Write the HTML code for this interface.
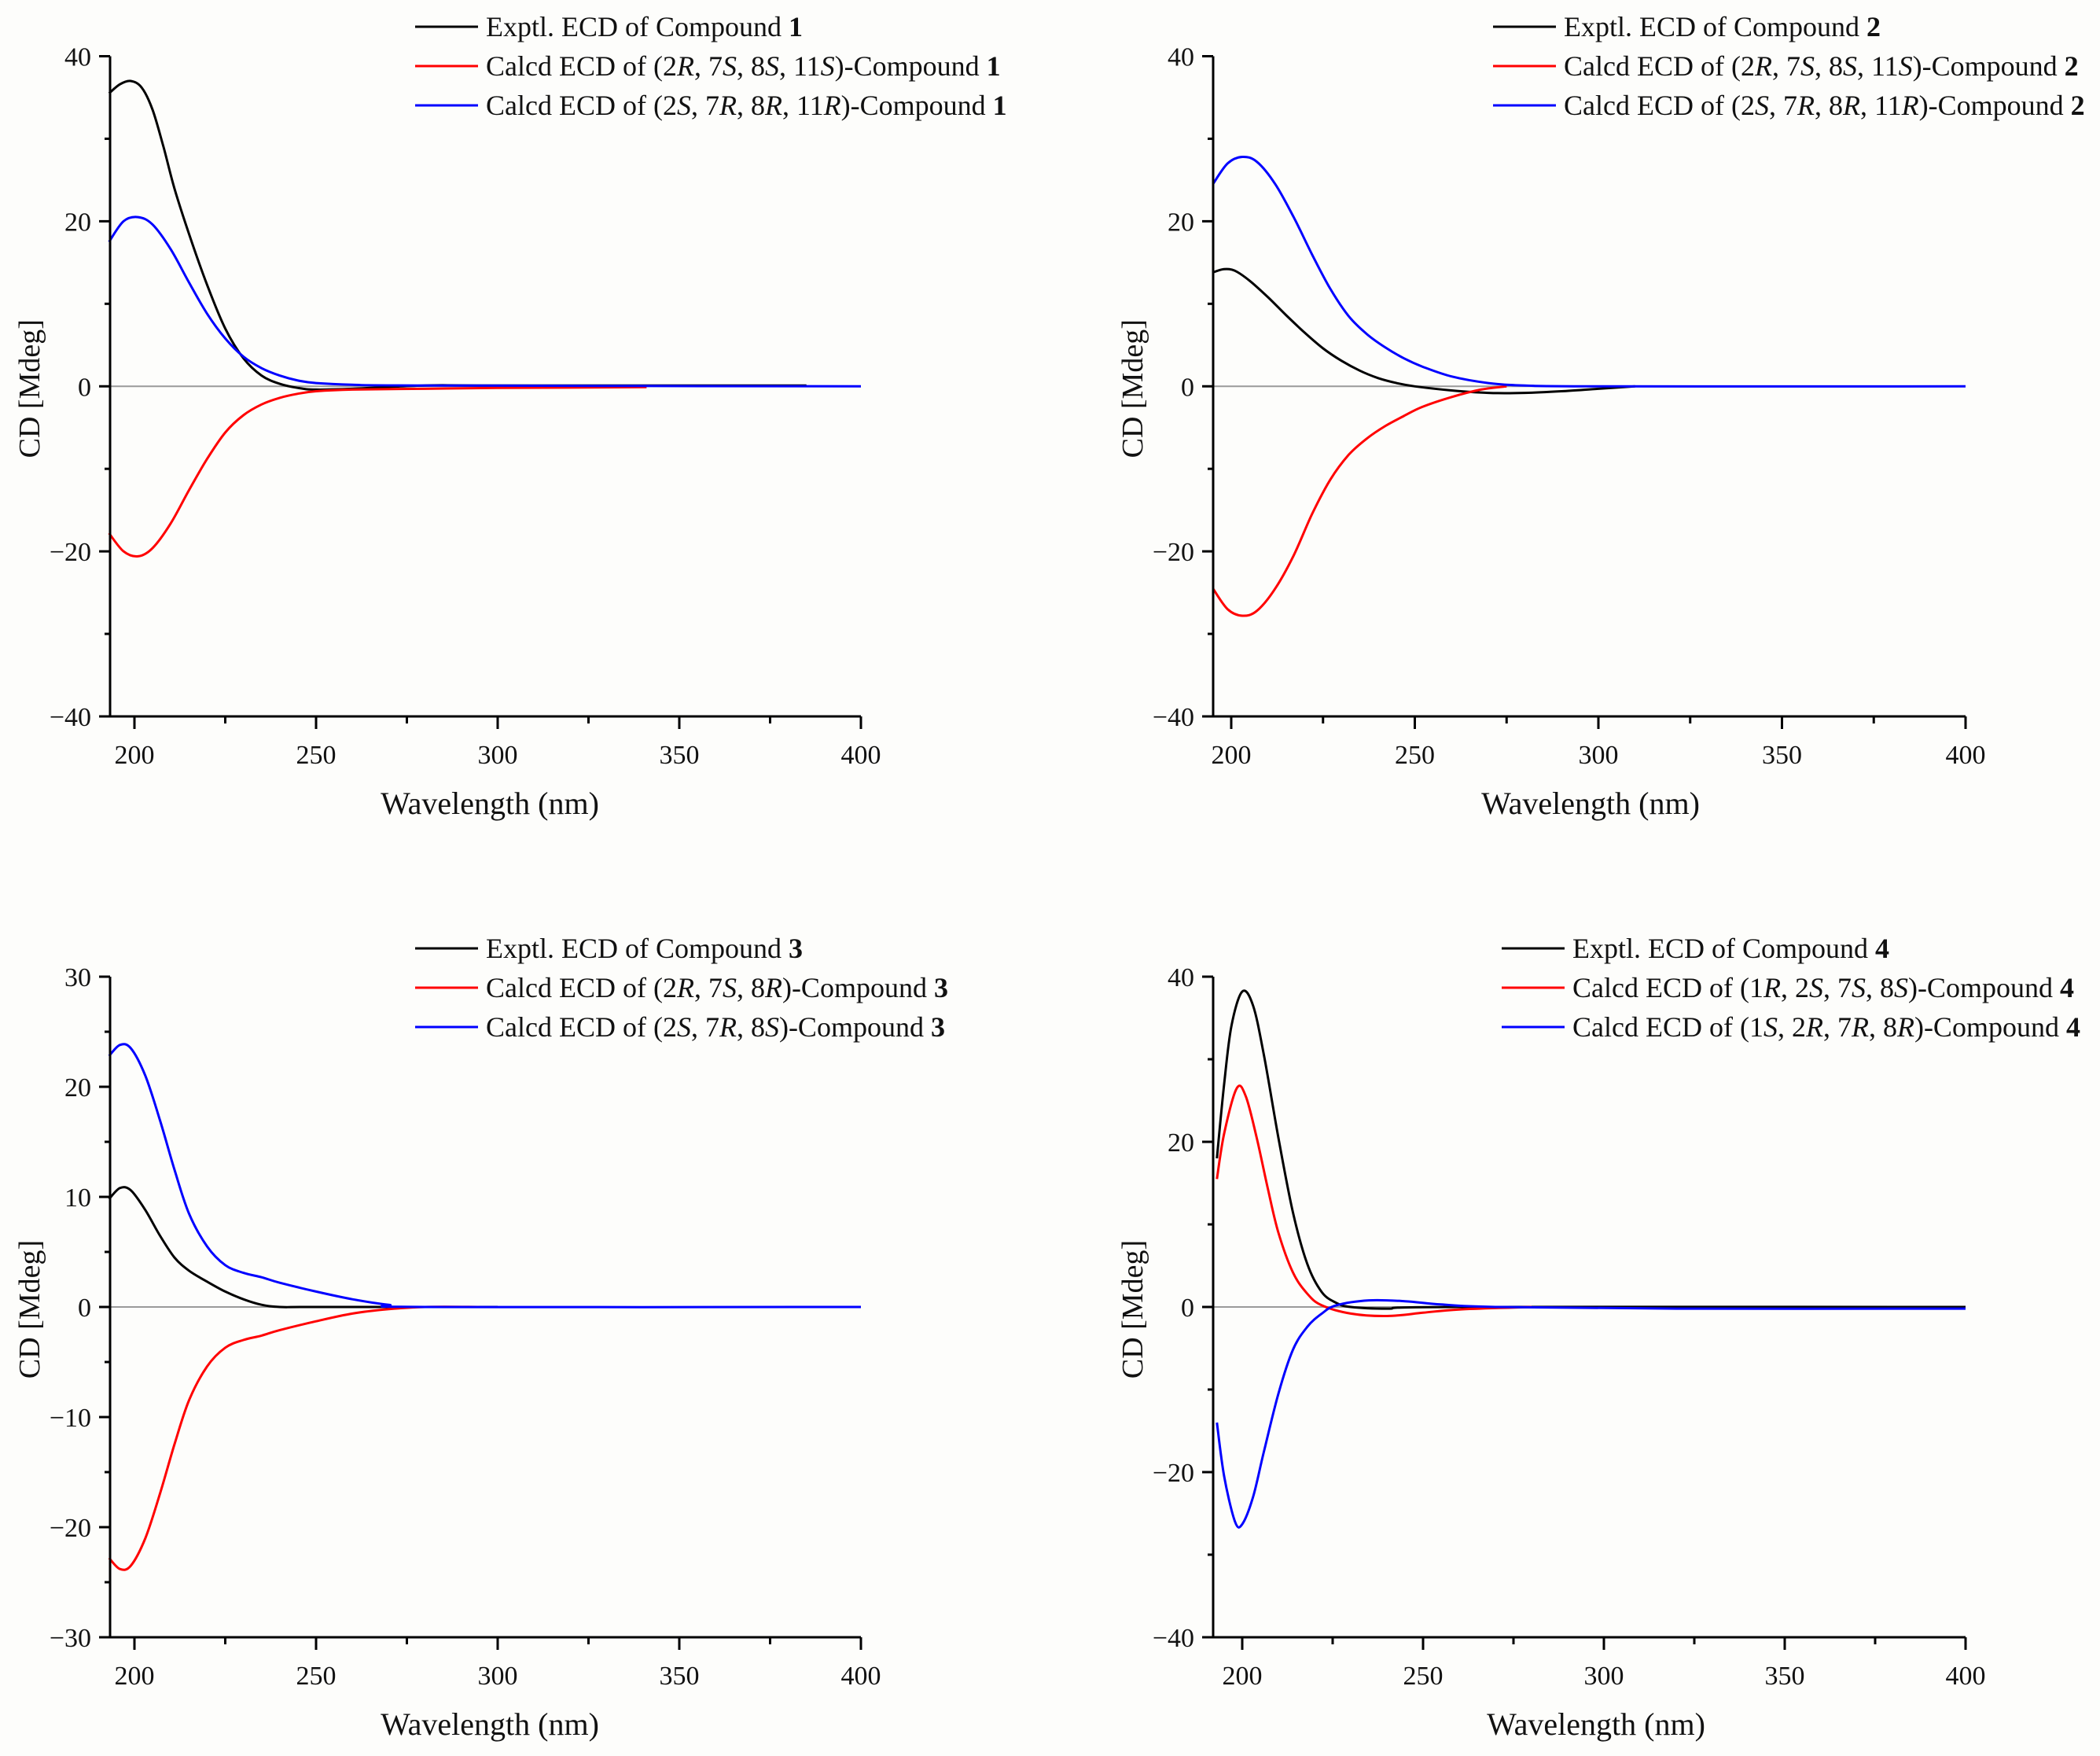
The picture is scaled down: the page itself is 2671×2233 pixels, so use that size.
<!DOCTYPE html>
<html><head><meta charset="utf-8"><style>
html,body{margin:0;padding:0;background:#fdfdfb;}
svg{display:block;font-family:"Liberation Serif","Times New Roman",serif;}
</style></head><body>
<svg id="fig" width="2671" height="2233" viewBox="0 0 2671 2233" xmlns="http://www.w3.org/2000/svg"></svg>
<script>
// ---- data (wavelength nm, CD mdeg) ----
const p1Black = [[193,35.5],[196,36.6],[199,37],[202,36.2],[205,33.5],[208,29],[211,24],[215,18.5],[220,12.3],[225,7.0],[230,3.4],[235,1.3],[240,0.3],[245,-0.2],[250,-0.4],[260,-0.3],[280,0.1],[300,0.1],[385,0.1]];
const p1Red = [[193,-17.8],[197,-20],[201,-20.6],[205,-19.6],[210,-16.6],[215,-12.6],[220,-8.8],[225,-5.6],[230,-3.5],[235,-2.2],[240,-1.4],[245,-0.9],[250,-0.6],[260,-0.4],[280,-0.3],[300,-0.2],[341,-0.1]];
const p1Blue = [[193,17.5],[197,20],[201,20.5],[205,19.6],[210,16.6],[215,12.6],[220,8.8],[225,5.8],[230,3.6],[235,2.2],[240,1.3],[245,0.7],[250,0.4],[260,0.2],[280,0.1],[400,0]];

const p2Black = [[195,13.8],[198,14.2],[201,14],[205,12.8],[210,10.8],[215,8.6],[220,6.5],[225,4.6],[230,3.1],[235,1.9],[240,1.0],[245,0.4],[250,0],[260,-0.5],[270,-0.8],[280,-0.8],[290,-0.6],[300,-0.3],[310,0]];
const p2Red = [[195,-24.5],[199,-27],[203,-27.8],[207,-27.2],[212,-24.5],[217,-20.5],[222,-15.5],[227,-11.3],[232,-8.3],[237,-6.3],[242,-4.8],[247,-3.6],[252,-2.5],[260,-1.3],[268,-0.4],[275,0]];
const p2Blue = [[195,24.5],[199,27],[203,27.8],[207,27.2],[212,24.5],[217,20.5],[222,16],[227,11.8],[232,8.5],[237,6.3],[242,4.7],[247,3.4],[252,2.4],[260,1.2],[270,0.4],[280,0.1],[300,0],[400,0]];

const p3Black = [[193,9.8],[196,10.8],[199,10.6],[203,8.8],[207,6.5],[211,4.5],[215,3.3],[220,2.3],[225,1.4],[230,0.7],[235,0.2],[240,0],[250,0],[300,0]];
const p3Red = [[193,-22.8],[196,-23.8],[199,-23.5],[203,-21],[207,-17],[211,-12.5],[215,-8.5],[220,-5.4],[225,-3.7],[230,-3.0],[235,-2.6],[240,-2.1],[250,-1.3],[260,-0.6],[270,-0.2],[280,0],[295,0]];
const p3Blue = [[193,22.8],[196,23.8],[199,23.5],[203,21],[207,17],[211,12.5],[215,8.5],[220,5.5],[225,3.8],[230,3.1],[235,2.7],[240,2.2],[250,1.4],[260,0.7],[270,0.2],[280,0],[400,0]];

const p4Black = [[193,18],[195,27],[197,34],[200,38.2],[203,36.5],[206,30.5],[210,20.5],[214,11.5],[218,5.2],[222,1.8],[226,0.5],[230,0],[240,-0.2],[260,0],[400,0]];
const p4Red = [[193,15.5],[195,21],[198.5,26.5],[201,25.5],[204,20.5],[207,14.5],[210,9],[214,4.2],[218,1.6],[222,0.2],[230,-0.8],[240,-1.1],[250,-0.7],[260,-0.3],[280,0]];
const p4Blue = [[193,-14],[195,-20.5],[198,-26],[200,-26.3],[203,-23],[206,-17.5],[210,-10.5],[214,-5.2],[218,-2.4],[222,-0.8],[226,0.2],[235,0.8],[245,0.7],[255,0.3],[270,0],[320,-0.2],[400,-0.2]];

const xTickLabels = ["200","250","300","350","400"];
const yTicks40 = [40,20,0,-20,-40];
const yTicks30 = [30,20,10,0,-10,-20,-30];

const NS="http://www.w3.org/2000/svg";
const svg=document.getElementById('fig');
function mk(tag,attrs,parent){const e=document.createElementNS(NS,tag);for(const k in attrs)e.setAttribute(k,attrs[k]);(parent||svg).appendChild(e);return e;}

function smoothPath(pts){
  let d="M"+pts[0][0].toFixed(1)+","+pts[0][1].toFixed(1);
  for(let i=0;i<pts.length-1;i++){
    const p0=pts[i-1]||pts[i],p1=pts[i],p2=pts[i+1],p3=pts[i+2]||p2;
    const c1x=p1[0]+(p2[0]-p0[0])/6,c1y=p1[1]+(p2[1]-p0[1])/6;
    const c2x=p2[0]-(p3[0]-p1[0])/6,c2y=p2[1]-(p3[1]-p1[1])/6;
    d+=" C"+c1x.toFixed(1)+","+c1y.toFixed(1)+" "+c2x.toFixed(1)+","+c2y.toFixed(1)+" "+p2[0].toFixed(1)+","+p2[1].toFixed(1);
  }
  return d;
}

function panel(cfg){
  const g=mk('g',{});
  
  
  const X=w=>cfg.x200+(w-200)*(cfg.x400-cfg.x200)/200;
  const Y=v=>cfg.y0+(v-cfg.ymin)*(cfg.ytop-cfg.y0)/(cfg.ymax-cfg.ymin);
  const left=cfg.left,right=X(400),bottom=Y(cfg.ymin),top=Y(cfg.ymax);
  const z=mk('line',{x1:left,x2:right,y1:Y(0),y2:Y(0),stroke:'#9a9a9a','stroke-width':2},g);
  
  
  const series=[[cfg.black,'#000','black'],[cfg.red,'#ff0000','red'],[cfg.blue,'#0000ff','blue']];
  series.forEach(s=>{
    const p=mk('path',{d:smoothPath(s[0].map(q=>[X(q[0]),Y(q[1])])),fill:'none',stroke:s[1],'stroke-width':3},g);
    
    
  });
  const ax=mk('path',{d:`M${left},${top} V${bottom} H${right}`,fill:'none',stroke:'#000','stroke-width':3},g);
  
  
  for(let w=200;w<=400;w+=25){
    const major=(w%50===0);
    mk('line',{x1:X(w),x2:X(w),y1:bottom,y2:bottom+(major?16:9),stroke:'#000','stroke-width':3},g);
  }
  xTickLabels.forEach(l=>{
    const t=mk('text',{x:X(+l),y:bottom+60,'font-size':34,'text-anchor':'middle',fill:'#111'},g);
    t.textContent=l;
    
    
  });
  const step=cfg.ticks[0]-cfg.ticks[1];
  for(let v=cfg.ymin;v<=cfg.ymax+0.01;v+=step/2){
    const major=cfg.ticks.includes(v);
    mk('line',{x1:left,x2:left-(major?14:7),y1:Y(v),y2:Y(v),stroke:'#000','stroke-width':3},g);
  }
  cfg.ticks.forEach(v=>{
    const t=mk('text',{x:left-24,y:Y(v)+12,'font-size':34,'text-anchor':'end',fill:'#111'},g);
    t.textContent=v<0?'\u2212'+(-v):String(v);
    
    
  });
  const xt=mk('text',{x:(cfg.x200+cfg.x400)/2-10,y:bottom+124,'font-size':40,'text-anchor':'middle',fill:'#111'},g);
  xt.textContent='Wavelength (nm)';
  
  
  const yc=(top+bottom)/2+3;
  const yt=mk('text',{x:cfg.left-90,y:yc,'font-size':38,'text-anchor':'middle',fill:'#111',transform:`rotate(-90 ${cfg.left-90} ${yc})`},g);
  yt.textContent='CD [Mdeg]';
  
  
  const cols=['#000','#ff0000','#0000ff'];
  cfg.legend.forEach((items,i)=>{
    const ly=cfg.ly+i*50;
    const le=mk('g',{},g);
    
    
    mk('line',{x1:cfg.lx,x2:cfg.lx+80,y1:ly,y2:ly,stroke:cols[i],'stroke-width':3},le);
    const t=mk('text',{x:cfg.lx+90,y:ly+12,'font-size':36,fill:'#111'},le);
    items.forEach(seg=>{
      const ts=mk('tspan',{},t);
      if(seg[1]==='i')ts.setAttribute('font-style','italic');
      if(seg[1]==='b')ts.setAttribute('font-weight','bold');
      ts.textContent=seg[0];
    });
  });
}

function calcd(a,n){
  const out=[['Calcd ECD of (','n']];
  a.forEach((p,i)=>{out.push([p[0],'n']);out.push([p[1],'i']);if(i<a.length-1)out.push([', ','n']);});
  out.push([')-Compound ','n']);out.push([n,'b']);
  return out;
}

panel({name:'panel-compound-1',left:140,x200:171,x400:1095,y0:911,ytop:71.5,ymin:-40,ymax:40,ticks:yTicks40,
  black:p1Black,red:p1Red,blue:p1Blue,lx:528,ly:34,
  legend:[[['Exptl. ECD of Compound ','n'],['1','b']],calcd([['2','R'],['7','S'],['8','S'],['11','S']],'1'),calcd([['2','S'],['7','R'],['8','R'],['11','R']],'1')]});
panel({name:'panel-compound-2',left:1543,x200:1566,x400:2500,y0:911,ytop:71.5,ymin:-40,ymax:40,ticks:yTicks40,
  black:p2Black,red:p2Red,blue:p2Blue,lx:1899,ly:34,
  legend:[[['Exptl. ECD of Compound ','n'],['2','b']],calcd([['2','R'],['7','S'],['8','S'],['11','S']],'2'),calcd([['2','S'],['7','R'],['8','R'],['11','R']],'2')]});
panel({name:'panel-compound-3',left:140,x200:171,x400:1095,y0:2082,ytop:1242,ymin:-30,ymax:30,ticks:yTicks30,
  black:p3Black,red:p3Red,blue:p3Blue,lx:528,ly:1206,
  legend:[[['Exptl. ECD of Compound ','n'],['3','b']],calcd([['2','R'],['7','S'],['8','R']],'3'),calcd([['2','S'],['7','R'],['8','S']],'3')]});
panel({name:'panel-compound-4',left:1543,x200:1580,x400:2500,y0:2082,ytop:1242,ymin:-40,ymax:40,ticks:yTicks40,
  black:p4Black,red:p4Red,blue:p4Blue,lx:1910,ly:1206,
  legend:[[['Exptl. ECD of Compound ','n'],['4','b']],calcd([['1','R'],['2','S'],['7','S'],['8','S']],'4'),calcd([['1','S'],['2','R'],['7','R'],['8','R']],'4')]});
</script>
</body></html>
